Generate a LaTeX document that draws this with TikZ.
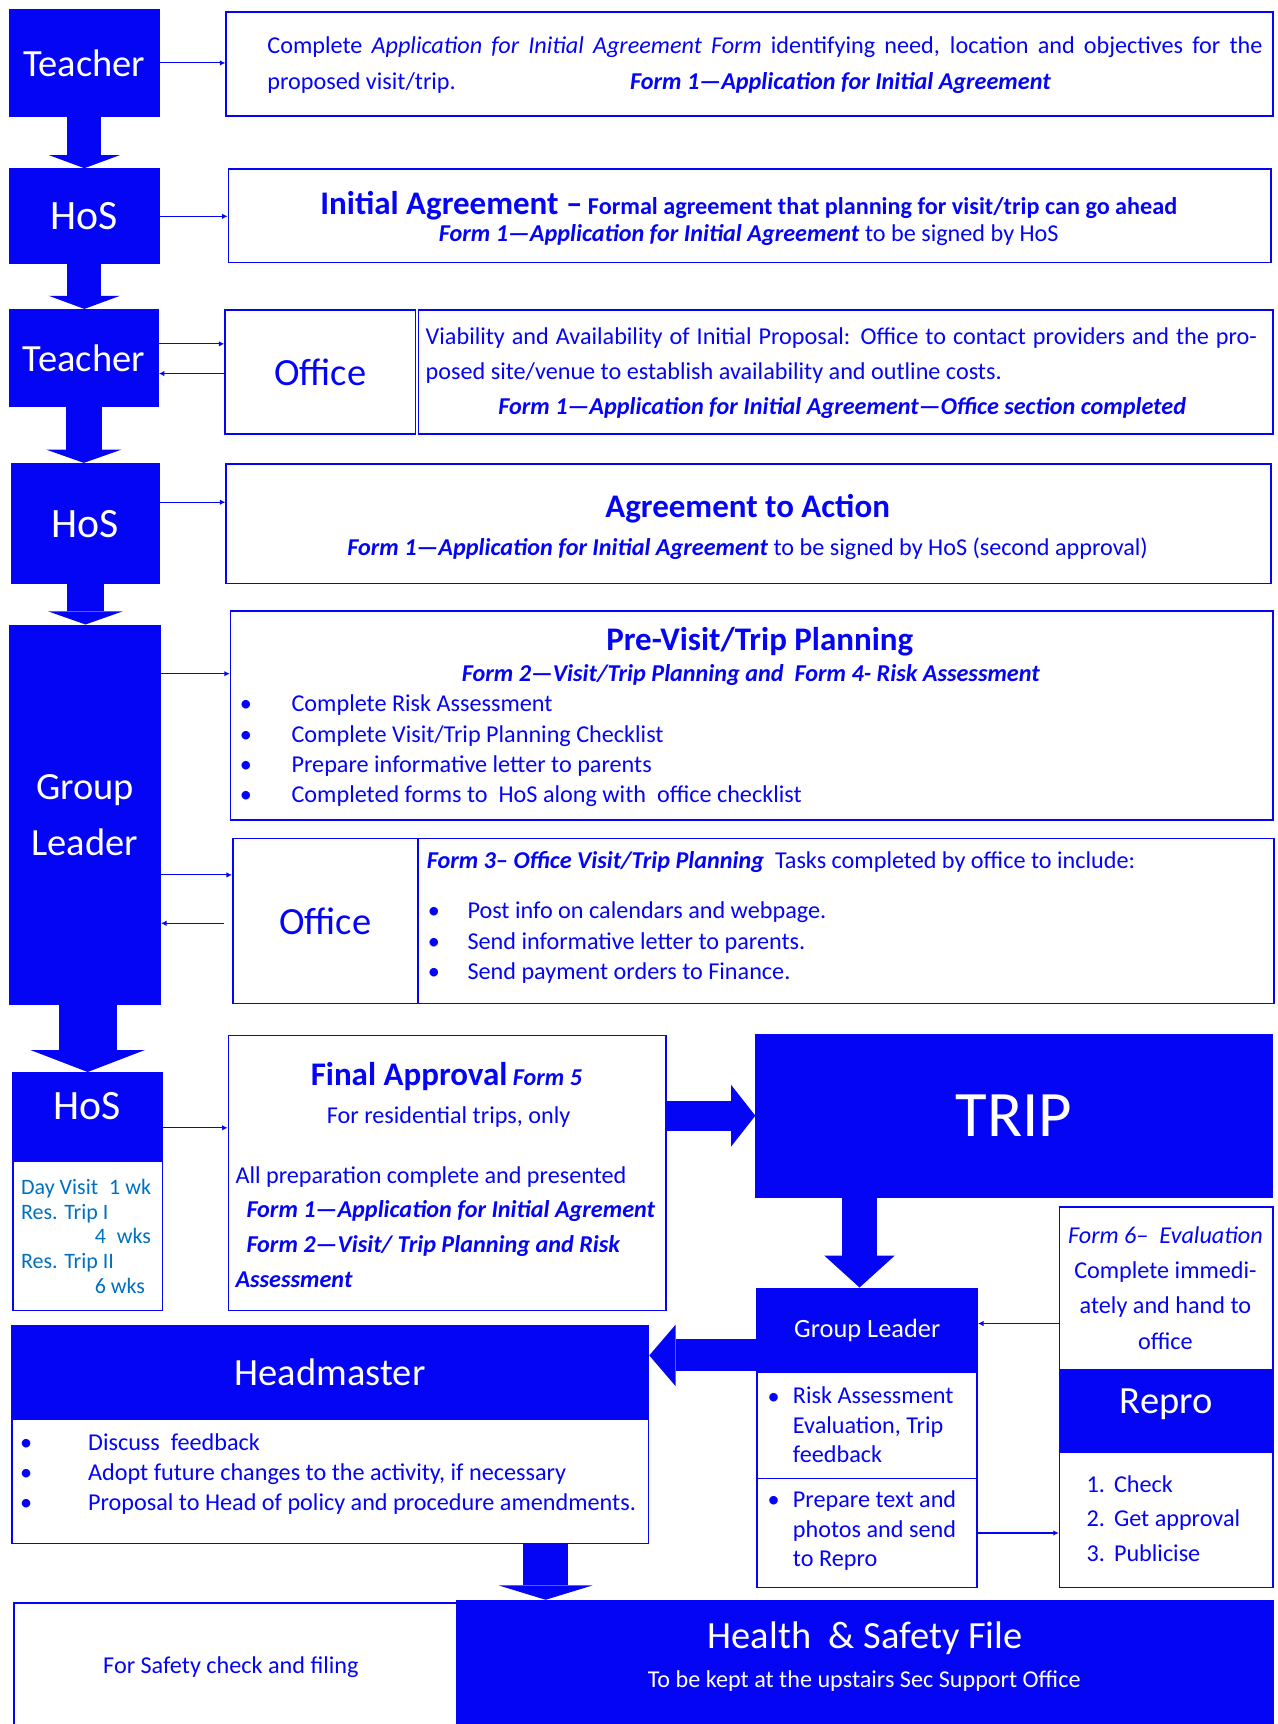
\documentclass[tikz,border=0pt]{standalone}
\usepackage{fontspec}
\setmainfont{Carlito}
\usetikzlibrary{arrows.meta}
\definecolor{flowblue}{RGB}{5,5,245}
\definecolor{noteblue}{RGB}{0,112,192}
\tikzset{
    bluebox/.style={fill=flowblue, draw=flowblue, line width=1.5pt, text=white, inner sep=0pt, anchor=north west},
    whitebox/.style={fill=white, draw=flowblue, line width=1.5pt, text=flowblue, inner sep=0pt, anchor=north west},
    txt/.style={text=flowblue, inner sep=0pt, font=\fontsize{22}{32}\selectfont},
    notetxt/.style={text=noteblue, inner sep=0pt, font=\fontsize{20}{23}\selectfont},
    rolename/.style={font=\fontsize{35}{51}\selectfont},
    hosname/.style={font=\fontsize{38}{44}\selectfont},
    heading/.style={text=flowblue, inner sep=0pt, font=\fontsize{30}{36}\selectfont\bfseries},
    thinarrow/.style={draw=flowblue, line width=1pt, -{Latex[length=5pt,width=5pt]}},
    bigarrow/.style n args={3}{draw=flowblue, line width=#1, -{Triangle[width=#2,length=#3,line width=0pt]}}
}
\begin{document}
\begin{tikzpicture}[x=1pt, y=-1pt]
    \useasboundingbox (0,0) rectangle (1162,1568);
    % left column
    \node[bluebox, rolename, minimum width=136pt, minimum height=97pt] (teacherA) at (8,8) {Teacher};
    \node[bluebox, hosname, minimum width=136pt, minimum height=86pt] (hosA) at (8,153) {HoS};
    \node[bluebox, rolename, minimum width=135pt, minimum height=88pt] (teacherB) at (8,281) {Teacher};
    \node[bluebox, hosname, minimum width=134pt, minimum height=109pt] (hosB) at (10,421) {HoS};
    \node[bluebox, rolename, align=center, minimum width=137pt, minimum height=345pt] (leaderA) at (8,568) {Group\\Leader};
    \node[bluebox, minimum width=136pt, minimum height=80pt] (hosC) at (11,975) {};
    \node[hosname, text=white, inner sep=0pt] (hosClabel) at (79,1006) {HoS};
    \node[whitebox, minimum width=136pt, minimum height=136pt] (hosnote) at (11,1055) {};
    \foreach \entry/\xx/\yy [count=\i] in {Day Visit\enspace 1 wk/19/1086, Res. Trip I/19/1109, 4\enspace wks/86/1131, Res. Trip II/19/1154, 6 wks/86/1176}
        \node[notetxt, anchor=base west] (hosnote\i) at (\xx,\yy) {\entry};

    % step boxes
    \node[whitebox, minimum width=952pt, minimum height=95pt] (boxA) at (205,10) {};
    \node[txt, anchor=base west] (boxAline) at (243,49) {\makebox[905pt][s]{Complete \textit{Application for Initial Agreement Form} identifying need, location and objectives for the}};
    \node[txt, anchor=base west] (boxAend) at (243,81) {proposed visit/trip.};
    \node[txt, anchor=base west] (boxAform) at (573,81) {\textbf{\textit{Form 1—Application for Initial Agreement}}};

    \node[whitebox, minimum width=948pt, minimum height=85pt] (boxB) at (207,153) {};
    \node[txt, anchor=base] (boxBhead) at (681,195) {{\fontsize{30}{36}\selectfont\bfseries Initial Agreement –} \textbf{Formal agreement that planning for visit/trip can go ahead}};
    \node[txt, anchor=base] (boxBform) at (681,220) {\textbf{\textit{Form 1—Application for Initial Agreement}} to be signed by HoS};

    \node[whitebox, rolename, minimum width=173pt, minimum height=113pt] (officeA) at (204,281) {Office};
    \node[whitebox, minimum width=777pt, minimum height=113pt] (boxC) at (380,281) {};
    \node[txt, anchor=base west] (boxCline) at (387,313) {\makebox[756pt][s]{Viability and Availability of Initial Proposal: Office to contact providers and the pro-}};
    \node[txt, anchor=base west] (boxCend) at (387,345) {posed site/venue to establish availability and outline costs.};
    \node[txt, anchor=base] (boxCform) at (766,377) {\textbf{\textit{Form 1—Application for Initial Agreement—Office section completed}}};

    \node[whitebox, minimum width=950pt, minimum height=109pt] (boxD) at (205,421) {};
    \node[heading, anchor=base] (boxDhead) at (680,471) {Agreement to Action};
    \node[txt, anchor=base] (boxDform) at (680,505) {\textbf{\textit{Form 1—Application for Initial Agreement}} to be signed by HoS (second approval)};

    \node[whitebox, minimum width=948pt, minimum height=190pt] (boxE) at (209,555) {};
    \node[heading, anchor=base] (boxEhead) at (691,592) {Pre-Visit/Trip Planning};
    \node[txt, anchor=base] (boxEform) at (683,620) {\textbf{\textit{Form 2—Visit/Trip Planning and\ \ Form 4- Risk Assessment}}};
    \foreach \entry [count=\i] in {Complete Risk Assessment, Complete Visit/Trip Planning Checklist, Prepare informative letter to parents, Completed forms to\ \ HoS along with\ \ office checklist} {
        \node[txt, anchor=base west] (planbul\i) at (218, 619.5+27.7*\i) {\textbullet};
        \node[txt, anchor=base west] (plantxt\i) at (265, 619.5+27.7*\i) {\entry};
    }

    \node[whitebox, rolename, minimum width=168pt, minimum height=150pt] (officeB) at (211,762) {Office};
    \node[whitebox, minimum width=778pt, minimum height=150pt] (boxF) at (380,762) {};
    \node[txt, anchor=base west] (officetask) at (388,790) {\textbf{\textit{Form 3– Office Visit/Trip Planning}}\ \ Tasks completed by office to include:};
    \foreach \entry [count=\i] in {Post info on calendars and webpage., Send informative letter to parents., Send payment orders to Finance.} {
        \node[txt, anchor=base west] (taskbul\i) at (389, 808+27.7*\i) {\textbullet};
        \node[txt, anchor=base west] (tasktxt\i) at (425, 808+27.7*\i) {\entry};
    }

    % approval and trip
    \node[whitebox, minimum width=398pt, minimum height=250pt] (finalbox) at (207,941) {};
    \node[txt, anchor=base] (finalhead) at (406,987) {{\fontsize{30}{36}\selectfont\bfseries Final Approval} \textbf{\textit{Form 5}}};
    \node[txt, anchor=base] (finalres) at (408,1022) {For residential trips, only};
    \foreach \entry/\xx [count=\i] in {All preparation complete and presented/214, \textbf{\textit{Form 1—Application for Initial Agrement}}/224, \textbf{\textit{Form 2—Visit/ Trip Planning and Risk}}/224, \textbf{\textit{Assessment}}/214}
        \node[txt, anchor=base west] (finalline\i) at (\xx, 1044.3+31.7*\i) {\entry};

    \node[bluebox, font=\fontsize{59}{70}\selectfont, minimum width=469pt, minimum height=148pt] (trip) at (687,940) {TRIP};

    \node[bluebox, font=\fontsize{24}{28}\selectfont, minimum width=200pt, minimum height=76pt] (leaderB) at (688,1171) {Group Leader};
    \node[whitebox, minimum width=200pt, minimum height=97pt] (leaderBa) at (688,1247) {};
    \node[whitebox, minimum width=200pt, minimum height=99pt] (leaderBb) at (688,1344) {};
    \node[txt, anchor=base west] (evalbul) at (698,1277) {\textbullet};
    \foreach \entry [count=\i] in {Risk Assessment, {Evaluation, Trip}, feedback}
        \node[txt, anchor=base west] (evaltxt\i) at (721, 1250+26.8*\i) {\entry};
    \node[txt, anchor=base west] (sendbul) at (698,1371) {\textbullet};
    \foreach \entry [count=\i] in {Prepare text and, photos and send, to Repro}
        \node[txt, anchor=base west] (sendtxt\i) at (721, 1344+27*\i) {\entry};

    \node[whitebox, minimum width=194pt, minimum height=148pt] (evalbox) at (963,1097) {};
    \foreach \entry [count=\i] in {\textit{Form 6–\ \ Evaluation}, Complete immedi-, ately and hand to, office}
        \node[txt, anchor=base] (evalline\i) at (1060, 1099+32*\i) {\entry};
    \node[bluebox, rolename, text depth=17pt, minimum width=194pt, minimum height=75pt] (repro) at (963,1245) {Repro};
    \node[whitebox, minimum width=194pt, minimum height=123pt] (reprolist) at (963,1320) {};
    \foreach \num/\entry [count=\i] in {1./Check, 2./Get approval, 3./Publicise} {
        \node[txt, anchor=base west] (repronum\i) at (988, 1325.5+31.5*\i) {\num};
        \node[txt, anchor=base west] (reprotxt\i) at (1013, 1325.5+31.5*\i) {\entry};
    }

    % headmaster and file
    \node[bluebox, rolename, minimum width=579pt, minimum height=85pt] (headmaster) at (10,1205) {Headmaster};
    \node[whitebox, minimum width=579pt, minimum height=113pt] (headlist) at (10,1290) {};
    \foreach \entry [count=\i] in {Discuss\ \ feedback, {Adopt future changes to the activity, if necessary}, Proposal to Head of policy and procedure amendments.} {
        \node[txt, anchor=base west] (headbul\i) at (18, 1291.5+27.5*\i) {\textbullet};
        \node[txt, anchor=base west] (headtxt\i) at (80, 1291.5+27.5*\i) {\entry};
    }

    \node[whitebox, minimum width=403pt, minimum height=130pt] (safetyA) at (12,1457) {};
    \node[txt] (safetycheck) at (210,1516) {For Safety check and filing};
    \node[bluebox, minimum width=742pt, minimum height=130pt] (safetyB) at (415,1455) {};
    \node[rolename, text=white, anchor=base, inner sep=0pt] (safetyhead) at (787,1499) {Health\ \ \& Safety File};
    \node[txt, text=white, anchor=base] (safetykeep) at (786,1535) {To be kept at the upstairs Sec Support Office};

    % block arrows
    \draw[bigarrow={31pt}{65pt}{12pt}] (teacherA.south) -- (teacherA.south |- hosA.north);
    \draw[bigarrow={31pt}{65pt}{12pt}] (hosA.south) -- (hosA.south |- teacherB.north);
    \draw[bigarrow={33pt}{68pt}{12pt}] (teacherB.south) -- (teacherB.south |- hosB.north);
    \draw[bigarrow={33pt}{68pt}{12pt}] (hosB.south) -- (hosB.south |- leaderA.north);
    \draw[bigarrow={53pt}{104pt}{20pt}] (hosC.north |- leaderA.south) -- (hosC.north);
    \draw[bigarrow={27pt}{56pt}{22pt}] (finalbox.east |- trip.west) -- (trip.west);
    \draw[bigarrow={32pt}{64pt}{29pt}] ([xshift=-7pt]leaderB.north |- trip.south) -- ([xshift=-7pt]leaderB.north);
    \coordinate (glback) at ([yshift=-23pt]leaderB.west);
    \draw[bigarrow={29pt}{56pt}{24pt}] (glback) -- (glback -| headmaster.east);
    \coordinate (hmdrop) at ([xshift=196pt]headlist.south);
    \draw[bigarrow={41pt}{85pt}{13pt}] (hmdrop) -- (hmdrop |- safetyB.north);

    % thin arrows
    \draw[thinarrow] (teacherA.east) -- (teacherA.east -| boxA.west);
    \draw[thinarrow] (hosA.east) -- (hosA.east -| boxB.west);
    \coordinate (tbout) at ([yshift=13pt]teacherB.east);
    \coordinate (tbin) at ([yshift=-14pt]teacherB.east);
    \draw[thinarrow] (tbout) -- (tbout -| officeA.west);
    \draw[thinarrow] (tbin -| officeA.west) -- (tbin);
    \coordinate (hbout) at ([yshift=19.5pt]hosB.east);
    \draw[thinarrow] (hbout) -- (hbout -| boxD.west);
    \coordinate (glplan) at ([yshift=128.5pt]leaderA.east);
    \draw[thinarrow] (glplan) -- (glplan -| boxE.west);
    \coordinate (gloffout) at ([yshift=-54.5pt]leaderA.east);
    \coordinate (gloffin) at ([yshift=-98.5pt]leaderA.east);
    \draw[thinarrow] (gloffout) -- (gloffout -| officeB.west);
    \draw[thinarrow] ([xshift=-7pt]gloffin -| officeB.west) -- (gloffin);
    \coordinate (hcout) at ([yshift=-10pt]hosC.east);
    \draw[thinarrow] (hcout) -- (hcout -| finalbox.west);
    \coordinate (evalin) at ([yshift=6pt]leaderB.east);
    \draw[thinarrow] (evalin -| evalbox.west) -- (evalin);
    \draw[thinarrow] (leaderBb.east) -- (leaderBb.east -| reprolist.west);
\end{tikzpicture}
\end{document}
